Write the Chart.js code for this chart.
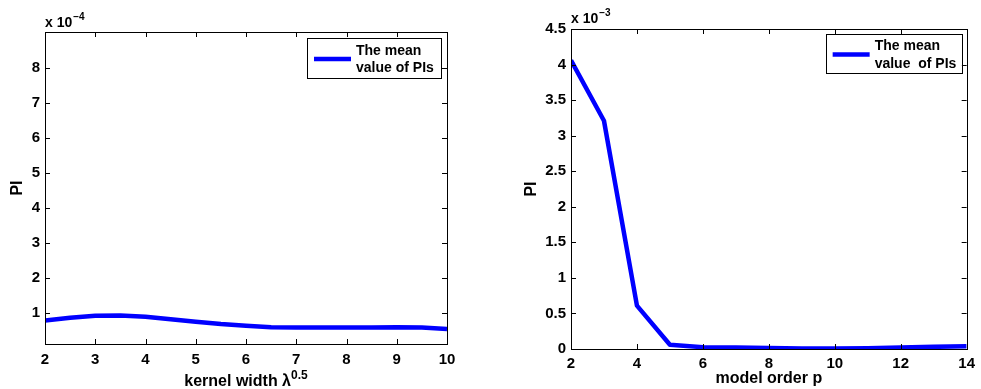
<!DOCTYPE html>
<html><head><meta charset="utf-8">
<script src="https://cdn.jsdelivr.net/npm/chart.js@4/dist/chart.umd.min.js"></script>
<style>
html,body{margin:0;padding:0;background:#fff;}
#c1{position:absolute;left:0;top:0;}
#c2{position:absolute;left:490px;top:0;}
</style></head>
<body>
<canvas id="c1" width="490" height="389"></canvas>
<canvas id="c2" width="491" height="389"></canvas>
<script>
// ---- data (values in units of the axis multiplier) ----
const kernelWidth = [2,2.5,3,3.5,4,4.5,5,5.5,6,6.5,7,7.5,8,8.5,9,9.5,10];
const meanPI_kernel = [0.77,0.85,0.91,0.92,0.88,0.81,0.74,0.67,0.62,0.58,0.57,0.57,0.57,0.57,0.58,0.57,0.53]; // x 1e-4
const modelOrder = [2,3,4,5,6,7,8,9,10,11,12,13,14];
const meanPI_order = [4.06,3.21,0.61,0.06,0.025,0.02,0.015,0.008,0.008,0.01,0.02,0.03,0.04]; // x 1e-3
const xTicksLeft = [2,3,4,5,6,7,8,9,10];
const yTicksLeft = [1,2,3,4,5,6,7,8];
const xTicksRight = [2,4,6,8,10,12,14];
const yTicksRight = [0,0.5,1,1.5,2,2.5,3,3.5,4,4.5];
const expLeft = '-4', expRight = '-3';
const legendLeft = ['The mean','value of PIs'];
const legendRight = ['The mean','value  of PIs'];

const FONT = '"Liberation Sans", Arial, Helvetica, sans-serif';
const BLUE = '#0000ff';

function matlabPlugin(cfg){
  return {
    id:'matlab',
    afterDraw(chart){
      const ctx = chart.ctx, a = chart.chartArea;
      const xs = chart.scales.x, ys = chart.scales.y;
      ctx.save();
      ctx.strokeStyle = '#000'; ctx.lineWidth = 1;
      ctx.strokeRect(Math.round(a.left)+0.5, Math.round(a.top)+0.5, Math.round(a.right-a.left), Math.round(a.bottom-a.top));
      const tl = 5;
      ctx.beginPath();
      xs.ticks.forEach(t=>{
        const px = Math.round(xs.getPixelForValue(t.value))+0.5;
        ctx.moveTo(px,a.bottom); ctx.lineTo(px,a.bottom-tl);
        ctx.moveTo(px,a.top); ctx.lineTo(px,a.top+tl);
      });
      ys.ticks.forEach(t=>{
        const py = Math.round(ys.getPixelForValue(t.value))+0.5;
        ctx.moveTo(a.left,py); ctx.lineTo(a.left+tl,py);
        ctx.moveTo(a.right,py); ctx.lineTo(a.right-tl,py);
      });
      ctx.stroke();
      // y label "PI"
      ctx.fillStyle='#000';
      ctx.save();
      ctx.translate(cfg.yLabelX, (a.top+a.bottom)/2);
      ctx.rotate(-Math.PI/2);
      ctx.font = 'bold 16px '+FONT; ctx.textAlign='center'; ctx.textBaseline='middle';
      ctx.fillText('PI',0,0);
      ctx.restore();
      // x label with optional superscript
      ctx.font = 'bold 16px '+FONT;
      const w1 = ctx.measureText(cfg.xLabel).width;
      ctx.font = 'bold 12px '+FONT;
      const w2 = cfg.xSup ? ctx.measureText(cfg.xSup).width : 0;
      let x0 = (a.left+a.right)/2 - (w1+w2)/2;
      ctx.textAlign='left'; ctx.textBaseline='alphabetic';
      ctx.font = 'bold 16px '+FONT;
      ctx.fillText(cfg.xLabel, x0, cfg.xLabelY);
      if(cfg.xSup){ ctx.font='bold 12px '+FONT; ctx.fillText(cfg.xSup, x0+w1, cfg.xLabelY-7); }
      // exponent multiplier
      ctx.font = 'bold 14px '+FONT;
      const base = 'x 10';
      ctx.fillText(base, a.left, cfg.expY);
      const bw = ctx.measureText(base).width;
      ctx.font = 'bold 10px '+FONT;
      ctx.fillText(cfg.exp.replace('-','\u2212'), a.left+bw+1, cfg.expY-7);
      // legend
      const lg = cfg.legend;
      const bx = a.right - lg.dx - lg.w, by = a.top + lg.dy;
      ctx.fillStyle='#fff'; ctx.fillRect(bx,by,lg.w,lg.h);
      ctx.strokeStyle='#000'; ctx.lineWidth=1;
      ctx.strokeRect(Math.round(bx)+0.5,Math.round(by)+0.5,lg.w,lg.h);
      const ds = chart.data.datasets[0];
      ctx.strokeStyle = ds.borderColor; ctx.lineWidth = 4.5;
      ctx.beginPath(); ctx.moveTo(bx+7,by+lg.h/2+1); ctx.lineTo(bx+44,by+lg.h/2+1); ctx.stroke();
      ctx.fillStyle='#000'; ctx.font='bold 14px '+FONT;
      ctx.fillText(lg.text[0], bx+49, by+lg.b1);
      ctx.fillText(lg.text[1], bx+49, by+lg.b2);
      ctx.restore();
    }
  };
}

function makeChart(id, xs, ys, xT, yT, xMin, xMax, yMin, yMax, area, cfg, canvasW){
  return new Chart(document.getElementById(id), {
    type:'line',
    data:{datasets:[{label:'The mean value of PIs', data: xs.map((x,i)=>({x:x,y:ys[i]})),
      borderColor:BLUE, borderWidth:4.5, pointRadius:0, tension:0, fill:false, borderJoinStyle:'round'}]},
    options:{
      responsive:false, animation:false, devicePixelRatio:1,
      layout:{padding:{top:area.top, right:canvasW-area.right, left:0, bottom:0}},
      plugins:{legend:{display:false}, tooltip:{enabled:false}},
      scales:{
        x:{type:'linear', min:xMin, max:xMax,
          afterBuildTicks(s){ s.ticks = xT.map(v=>({value:v})); },
          afterFit(s){ s.height = 389 - area.bottom; },
          grid:{display:false, drawTicks:false}, border:{display:false},
          ticks:{padding:cfg.xPad, color:'#000', font:{family:FONT, size:15, weight:'bold'}, maxRotation:0, autoSkip:false,
            callback:v=>String(v)}},
        y:{type:'linear', min:yMin, max:yMax,
          afterBuildTicks(s){ s.ticks = yT.map(v=>({value:v})); },
          afterFit(s){ s.width = area.left; },
          grid:{display:false, drawTicks:false}, border:{display:false},
          ticks:{padding:5, color:'#000', font:{family:FONT, size:15, weight:'bold'}, autoSkip:false,
            callback:v=>String(v)}}
      }
    },
    plugins:[matlabPlugin(cfg)]
  });
}

makeChart('c1', kernelWidth, meanPI_kernel, xTicksLeft, yTicksLeft, 2, 10, 0.1, 9.04,
  {left:45, right:447, top:32, bottom:344},
  {yLabelX:18, xLabel:'kernel width \u03bb', xSup:'0.5', xLabelY:386, expY:27, exp:expLeft, xPad:7,
   legend:{dx:6, dy:6, w:134, h:40, b1:17, b2:34, text:legendLeft}}, 490);

makeChart('c2', modelOrder, meanPI_order, xTicksRight, yTicksRight, 2, 14, 0, 4.5,
  {left:81, right:483, top:29, bottom:349},
  {yLabelX:42, xLabel:'model order p', xSup:'', xLabelY:383, expY:23, exp:expRight, xPad:6,
   legend:{dx:5, dy:5, w:136, h:39, b1:16, b2:34, text:legendRight}}, 491);
</script>
</body></html>
